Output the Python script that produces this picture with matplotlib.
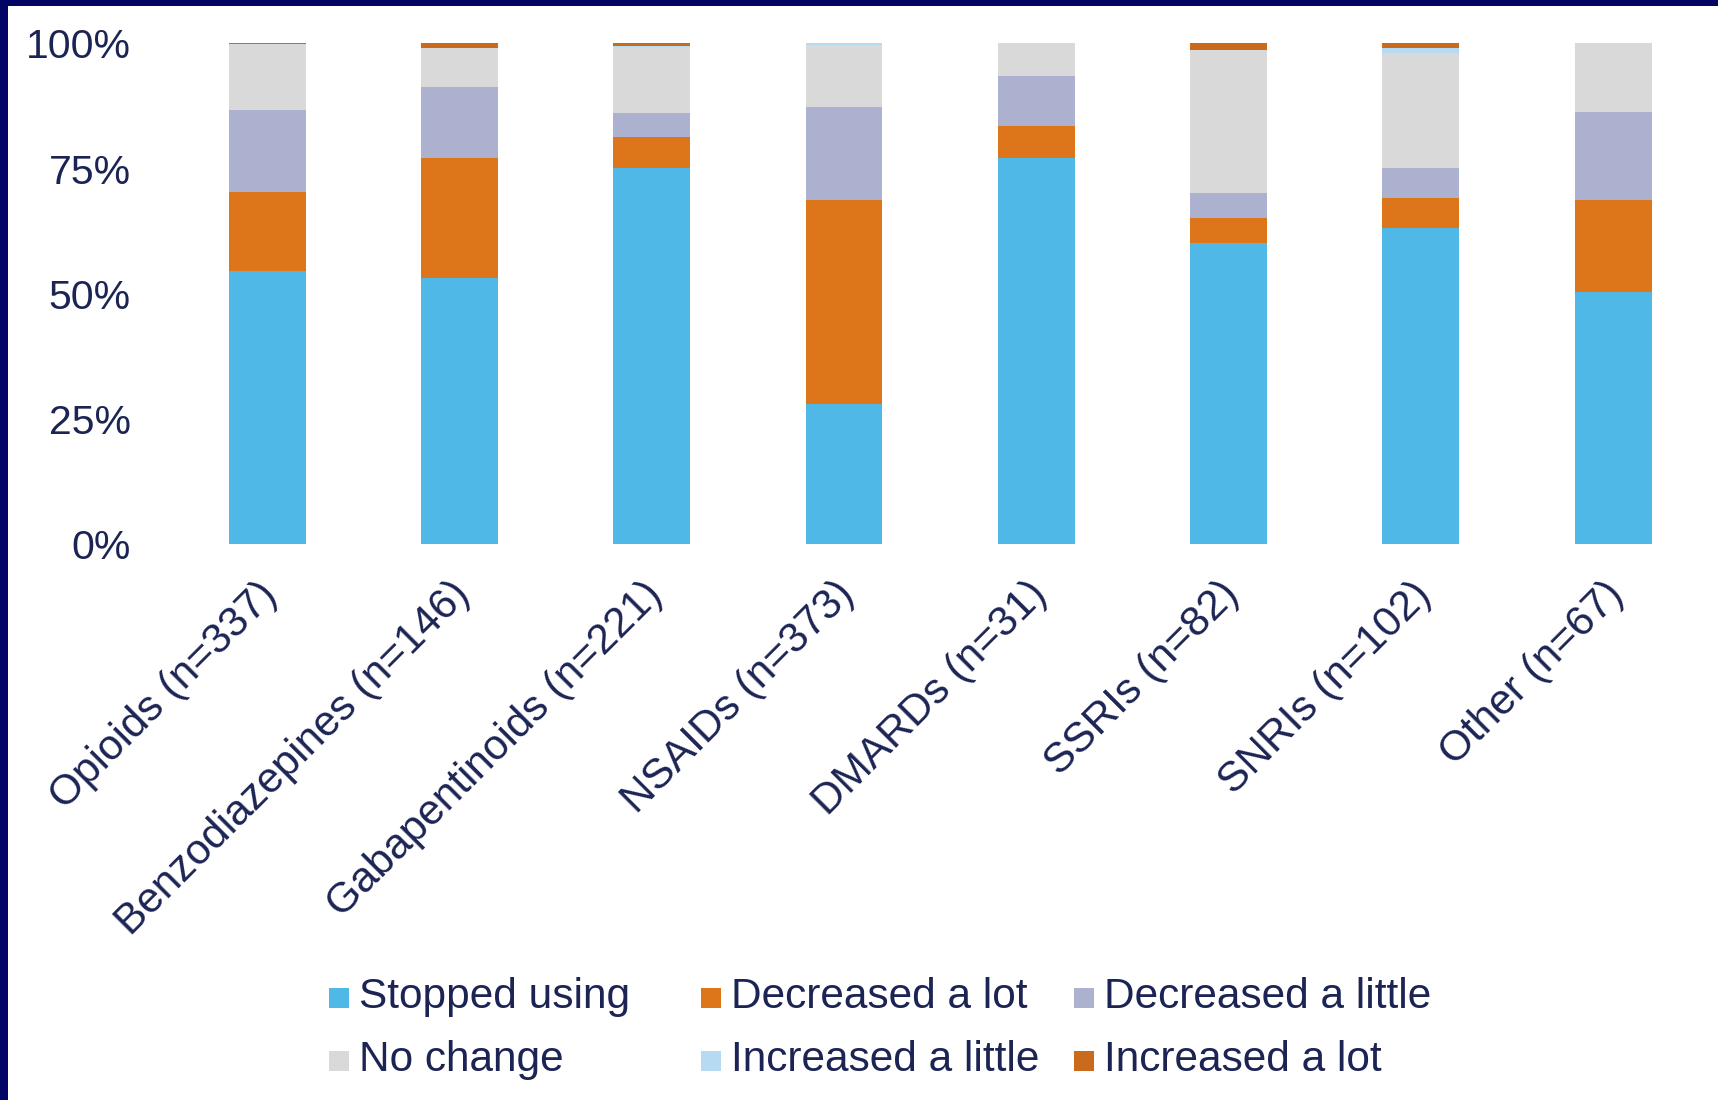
import matplotlib
matplotlib.use('Agg')
import matplotlib.pyplot as plt
from matplotlib.patches import Rectangle
from matplotlib.ticker import FuncFormatter
from matplotlib.transforms import ScaledTranslation

categories = ['Opioids (n=337)', 'Benzodiazepines (n=146)', 'Gabapentinoids (n=221)',
              'NSAIDs (n=373)', 'DMARDs (n=31)', 'SSRIs (n=82)', 'SNRIs (n=102)', 'Other (n=67)']
stopped = [54.5, 53.2, 75.2, 28.0, 77.2, 60.1, 63.2, 50.4]
dec_lot = [15.9, 24.0, 6.1, 40.7, 6.4, 5.0, 6.0, 18.3]
dec_little = [16.3, 14.0, 4.8, 18.6, 9.8, 5.0, 5.9, 17.7]
no_change = [13.1, 7.9, 13.1, 12.3, 6.6, 28.6, 22.9, 13.6]
inc_little = [0.0, 0.0, 0.3, 0.4, 0.0, 0.0, 1.1, 0.0]
inc_lot = [0.2, 0.9, 0.5, 0.0, 0.0, 1.3, 0.9, 0.0]

series = [
    ('Stopped using', stopped, '#4FB8E6'),
    ('Decreased a lot', dec_lot, '#DD761B'),
    ('Decreased a little', dec_little, '#ABB1CF'),
    ('No change', no_change, '#D9D9D9'),
    ('Increased a little', inc_little, '#B5DAF1'),
    ('Increased a lot', inc_lot, '#C96A1C'),
]

txt = '#1B2453'
plt.rcParams['font.family'] = ['Liberation Sans', 'DejaVu Sans']

fig = plt.figure(figsize=(17.18, 11.0), dpi=100, facecolor='white')
ax = fig.add_axes([0.0995, 0.5055, 0.8955, 0.455])

x = list(range(len(categories)))
bottom = [0.0] * len(categories)
for name, vals, col in series:
    ax.bar(x, vals, width=0.4, bottom=bottom, color=col, label=name, edgecolor='none')
    bottom = [b + v for b, v in zip(bottom, vals)]

ax.set_xlim(-0.5, len(categories) - 0.5)
ax.set_ylim(0, 100)
ax.set_yticks([0, 25, 50, 75, 100])
ax.yaxis.set_major_formatter(FuncFormatter(lambda v, p: f'{int(v)}%'))
ax.tick_params(axis='y', length=0, pad=29, labelsize=29.5, labelcolor=txt)
ax.tick_params(axis='x', length=0, pad=32, labelsize=30.5, labelcolor=txt)
ax.set_xticks(x)
ax.set_xticklabels(categories, rotation=45, ha='right', va='center', rotation_mode='anchor')
shift = ScaledTranslation(4 / 100, 0, fig.dpi_scale_trans)
for lab in ax.get_xticklabels():
    lab.set_transform(lab.get_transform() + shift)
for s in ax.spines.values():
    s.set_visible(False)

# legend drawn by hand, row-wise like the original
W, H = 1718.0, 1100.0
leg_cols = [329, 701, 1074]
leg_rows = [1008, 1071]
for i, (name, vals, col) in enumerate(series):
    r, c = divmod(i, 3)
    x0 = leg_cols[c]
    yb = leg_rows[r]
    fig.add_artist(Rectangle((x0 / W, 1 - yb / H), 20 / W, 20 / H, transform=fig.transFigure,
                             facecolor=col, edgecolor='none'))
    fig.text((x0 + 30) / W, 1 - yb / H, name, fontsize=30.5, color=txt, ha='left', va='baseline')

# navy frame on top and left
navy = '#020466'
fig.add_artist(Rectangle((0, 1 - 6 / H), 1, 6 / H, transform=fig.transFigure, facecolor=navy, edgecolor='none'))
fig.add_artist(Rectangle((0, 0), 8 / W, 1, transform=fig.transFigure, facecolor=navy, edgecolor='none'))

plt.savefig('out.png', dpi=100, facecolor='white')
